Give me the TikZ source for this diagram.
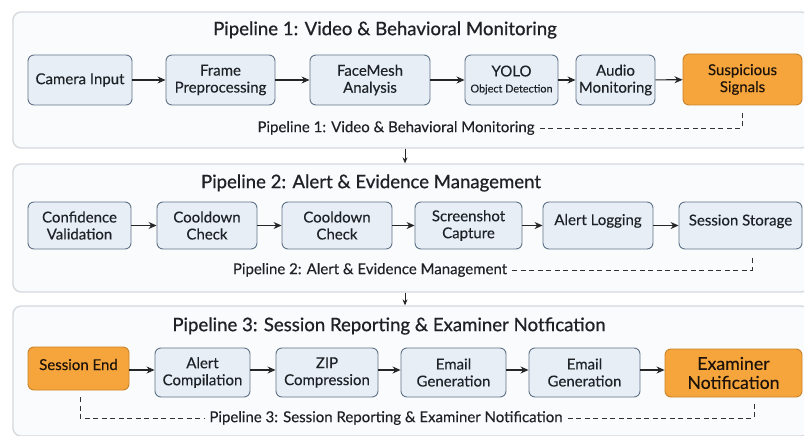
\documentclass[tikz,border=0pt]{standalone}
\usepackage{fontspec}
\setmainfont{Lato}[FakeBold=0.25]
\newfontfamily\titlefont{Lato}[FakeBold=0.7]
\usetikzlibrary{arrows.meta}
\definecolor{nodefill}{HTML}{E7EEF6}
\definecolor{nodeline}{HTML}{5F7287}
\definecolor{orfill}{HTML}{F6A53C}
\definecolor{orline}{HTML}{C98229}
\definecolor{panfill}{HTML}{FAFBFC}
\definecolor{panline}{HTML}{D3D8DF}
\definecolor{txt}{HTML}{1E2226}
\tikzset{
  panel/.style={draw=panline, fill=panfill, line width=1.3pt, rounded corners=8pt, inner sep=0pt},
  blk/.style={draw=nodeline, fill=nodefill, line width=0.9pt, rounded corners=6pt, align=center,
    font=\fontsize{15}{17}\selectfont, text=txt, inner sep=2pt},
  oblk/.style={blk, draw=orline, fill=orfill, text=black!85!brown},
  ttl/.style={font=\titlefont\fontsize{18.6}{21}\selectfont, text=txt},
  foot/.style={font=\fontsize{15}{17}\selectfont, text=txt, inner sep=1pt},
  flow/.style={-{Stealth[length=8pt,width=7pt]}, line width=1.1pt, black!85},
  dline/.style={dash pattern=on 5pt off 3.5pt, line width=0.9pt, black!80},
}
\begin{document}
\begin{tikzpicture}[x=1pt,y=-1pt]
\clip (0,0) rectangle (804,436);
\fill[white] (0,0) rectangle (804,436);
% panels
\node[panel, minimum width=796, minimum height=136] (p1) at (411,80) {};
\node[panel, minimum width=796, minimum height=128] (p2) at (411,228) {};
\node[panel, minimum width=796, minimum height=130] (p3) at (411,371) {};
% titles
\node[ttl] (t1) at (385,30) {Pipeline 1: Video \& Behavioral Monitoring};
\node[ttl] (t2) at (371,183) {Pipeline 2: Alert \& Evidence Management};
\node[ttl] (t3) at (389,326) {Pipeline 3: Session Reporting \& Examiner Notfication};
% pipeline 1
\node[blk, minimum width=104, minimum height=50] (cam) at (80,80) {Camera Input};
\node[blk, minimum width=109, minimum height=50] (frame) at (220.5,80) {Frame\\Preprocessing};
\node[blk, minimum width=120, minimum height=50] (face) at (370,80) {FaceMesh\\Analysis};
\node[blk, minimum width=93, minimum height=50] (yolo) at (511.5,80) {YOLO\\[-1pt]{\fontsize{10.8}{12}\selectfont Object Detection}};
\node[blk, minimum width=79, minimum height=50] (audio) at (615.5,80) {Audio\\Monitoring};
\node[oblk, minimum width=119, minimum height=51] (sus) at (742.5,79.5) {Suspicious\\Signals};
\draw[flow] (cam) -- (frame);
\draw[flow] (frame) -- (face);
\draw[flow] (face) -- (yolo);
\draw[flow] (yolo) -- (audio);
\draw[flow] (audio) -- (sus);
\node[foot] (f1) at (396,128) {Pipeline 1: Video \& Behavioral Monitoring};
\coordinate (c1) at (742,110);
\draw[dline] ([xshift=4pt]f1.east) -- (f1.east -| c1) -- (c1);
% pipeline 2
\node[blk, minimum width=103, minimum height=47] (conf) at (79.5,225.5) {Confidence\\Validation};
\node[blk, minimum width=100, minimum height=47] (cool1) at (207,225.5) {Cooldown\\Check};
\node[blk, minimum width=110, minimum height=47] (cool2) at (337,225.5) {Cooldown\\Check};
\node[blk, minimum width=107, minimum height=47] (shot) at (468.5,225.5) {Screenshot\\Capture};
\node[blk, minimum width=110, minimum height=47, text depth=12pt] (alog) at (598,225.5) {Alert Logging};
\node[blk, minimum width=123, minimum height=47, text depth=11pt] (sstore) at (740.5,225.5) {Session Storage};
\draw[flow] (conf) -- (cool1);
\draw[flow] (cool1) -- (cool2);
\draw[flow] (cool2) -- (shot);
\draw[flow] (shot) -- (alog);
\draw[flow] (alog) -- (sstore);
\node[foot] (f2) at (370,270) {Pipeline 2: Alert \& Evidence Management};
\coordinate (c2) at (752,256);
\draw[dline] ([xshift=4pt]f2.east) -- (f2.east -| c2) -- (c2);
% pipeline 3
\node[oblk, minimum width=101, minimum height=43, text depth=8pt] (send) at (78.5,368.5) {Session End};
\node[blk, minimum width=95, minimum height=49] (acomp) at (202.5,372.5) {Alert\\Compilation};
\node[blk, minimum width=102, minimum height=49] (zip) at (327,372.5) {ZIP\\Compression};
\node[blk, minimum width=105, minimum height=49] (email1) at (453.5,372.5) {Email\\Generation};
\node[blk, minimum width=111, minimum height=49] (email2) at (584.5,372.5) {Email\\Generation};
\node[oblk, minimum width=137, minimum height=48, font=\fontsize{17.7}{19}\selectfont] (exam) at (733.5,373) {Examiner\\Notification};
\draw[flow] (send.east |- 0,370) -- (acomp.west |- 0,370);
\draw[flow] (acomp.east |- 0,370) -- (zip.west |- 0,370);
\draw[flow] (zip.east |- 0,370) -- (email1.west |- 0,370);
\draw[flow] (email1.east |- 0,370) -- (email2.west |- 0,370);
\draw[flow] (email2.east |- 0,370) -- (exam.west |- 0,370);
\node[foot] (f3) at (386,418) {Pipeline 3: Session Reporting \& Examiner Notification};
\coordinate (c3a) at (80,397);
\coordinate (c3b) at (754,402);
\draw[dline] (c3a) -- (c3a |- f3.west) -- ([xshift=-4pt]f3.west);
\draw[dline] ([xshift=4pt]f3.east) -- (f3.east -| c3b) -- (c3b);
% inter-panel arrows
\coordinate (ax) at (405,0);
\draw[-{Stealth[length=6pt,width=5pt]}, line width=0.9pt, black!85] (p1.south -| ax) -- (p2.north -| ax);
\draw[-{Stealth[length=6pt,width=5pt]}, line width=0.9pt, black!85] (p2.south -| ax) -- (p3.north -| ax);
\end{tikzpicture}
\end{document}
